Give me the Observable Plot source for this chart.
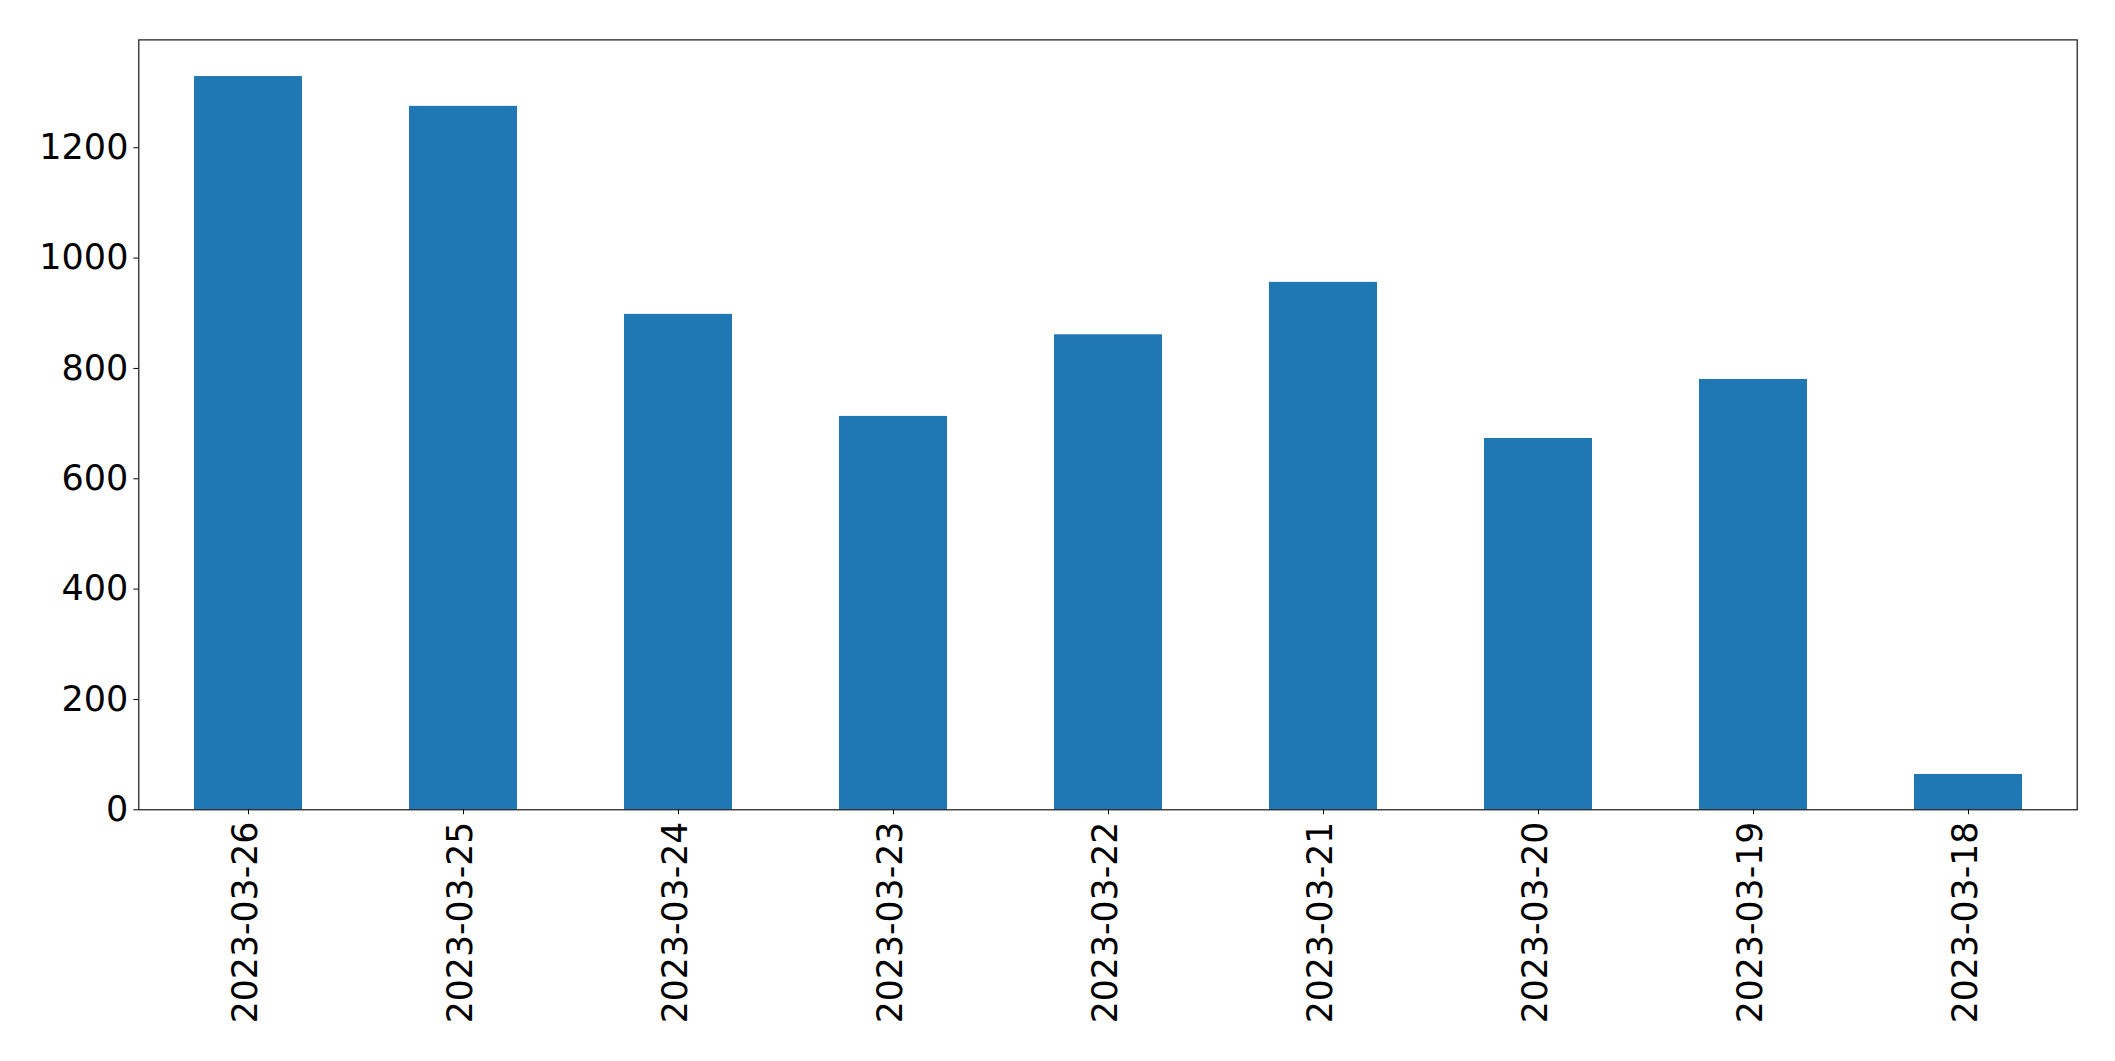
<!DOCTYPE html>
<html>
<head>
<meta charset="utf-8">
<script src="https://cdn.jsdelivr.net/npm/d3@7"></script>
<script src="https://cdn.jsdelivr.net/npm/@observablehq/plot@0.6"></script>
<style>
  html, body { margin: 0; padding: 0; background: #fff; }
  #chart svg { display: block; }
</style>
</head>
<body>
<div id="chart"></div>
<script>
const dates = ["2023-03-26", "2023-03-25", "2023-03-24", "2023-03-23", "2023-03-22", "2023-03-21", "2023-03-20", "2023-03-19", "2023-03-18"];
const counts = [1329, 1275, 898, 713, 861, 956, 673, 780, 64];
const yTicks = [0, 200, 400, 600, 800, 1000, 1200];

const data = dates.map((d, i) => ({date: d, count: counts[i]}));
const yMax = d3.max(counts) * 1.05;

const chart = Plot.plot({
  width: 2115,
  height: 1061,
  marginLeft: 138.3,
  marginRight: 38.3,
  marginTop: 39.4,
  marginBottom: 251.7,
  style: {
    fontFamily: "DejaVu Sans",
    fontSize: "34.7px",
    color: "#000",
    background: "#fff"
  },
  x: {
    type: "band",
    domain: dates,
    paddingInner: 0.5,
    paddingOuter: 0.25,
    align: 0.5,
    label: null
  },
  y: {
    domain: [0, yMax],
    label: null
  },
  marks: [
    Plot.barY(data, {x: "date", y: "count", fill: "#1f77b4"}),
    Plot.axisY({ticks: yTicks, tickSize: 4.9, tickPadding: 5.5, tickFormat: d => String(d), label: null, fontSize: 35}),
    Plot.axisX({tickSize: 4.9, tickPadding: 7, tickRotate: -90, label: null, fontSize: 34.7, textAnchor: "end"}),
    Plot.frame({stroke: "#000", strokeWidth: 1.1})
  ]
});

// nudge rotated x tick labels slightly left to center them on their ticks
chart.querySelectorAll("g[aria-label='x-axis tick label'] text").forEach(t => {
  const tr = t.getAttribute("transform") || "";
  t.setAttribute("transform", "translate(-3,0) " + tr);
});

document.getElementById("chart").appendChild(chart);
</script>
</body>
</html>
